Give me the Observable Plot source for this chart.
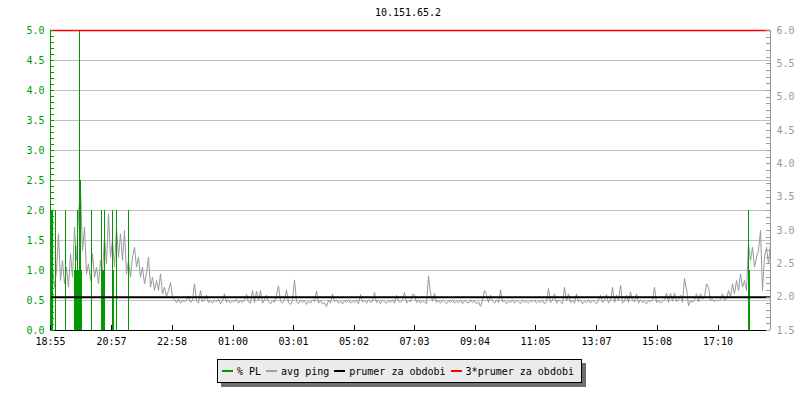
<!DOCTYPE html>
<html><head><meta charset="utf-8">
<script src="https://cdn.jsdelivr.net/npm/d3@7"></script>
<script src="https://cdn.jsdelivr.net/npm/@observablehq/plot@0.6"></script>
<style>
body{margin:0;background:#fff;font-family:"DejaVu Sans Mono",monospace;}
#wrap{position:relative;width:800px;height:400px;overflow:hidden;}
#chart{position:absolute;left:0;top:0;}
#title{position:absolute;top:7px;left:0;width:816px;text-align:center;font-size:10px;line-height:12px;color:#000;}
#legend{position:absolute;left:217px;top:359px;width:363px;height:22px;background:#ebebeb;border:1px solid #000;box-shadow:4px 4px 0 #6e6e6e;display:flex;align-items:center;font-size:10px;color:#000;white-space:pre;}
.sw{display:inline-block;width:11px;height:2px;margin-left:5px;margin-right:4px;}
.sw.first{margin-left:4px;}
</style>
</head><body>
<div id="wrap">
  <div id="chart"></div>
  <div id="title"></div>
  <div id="legend"></div>
</div>
<script>
// ---------- data ----------
const chartTitle = "10.151.65.2";
const startTime = "18:55";        // start of period
const periodMinutes = 1440;       // 24 h shown
const pingStepMinutes = 4;        // sampling step of avg ping values

// avg ping (right axis, ms)
const pingValues = [
 2.20,2.45,2.15,2.40,2.95,2.25,2.55,2.20,2.45,2.15,
 2.65,2.30,3.05,2.55,3.25,3.60,2.70,3.05,2.35,2.50,
 2.25,2.65,2.30,2.45,2.20,2.55,2.35,2.90,2.50,3.25,
 2.60,2.85,2.45,3.05,2.60,2.95,2.55,3.00,2.35,2.55,
 2.30,2.60,2.75,2.45,2.60,2.30,2.45,2.20,2.35,2.60,
 2.15,2.30,2.10,2.25,2.10,2.35,2.05,2.15,2.00,2.10,
 2.22,2.00,
 1.96,1.92,1.97,1.91,1.95,1.93,1.96,2.02,1.92,1.95,
 2.20,1.94,1.91,2.10,1.93,1.96,2.03,1.92,1.95,1.91,
 1.96,1.93,1.97,1.90,1.94,2.05,1.92,1.96,1.91,1.95,
 1.93,1.97,1.91,1.95,1.92,1.96,2.04,1.93,1.91,2.10,
 1.92,2.09,1.95,2.10,1.91,1.96,2.03,1.93,1.90,1.95,
 1.92,2.03,2.17,1.94,1.91,1.96,2.11,1.92,1.89,1.95,
 2.26,1.93,1.90,1.96,1.92,1.95,1.89,1.94,1.91,1.96,
 1.93,2.09,1.91,1.95,1.90,1.92,1.86,1.95,1.91,2.05,
 1.93,1.96,1.91,1.94,1.90,1.95,1.92,1.96,1.91,1.94,
 1.92,1.96,1.90,2.04,1.93,1.95,1.91,1.96,1.92,1.94,
 2.07,1.92,1.95,1.90,1.96,1.93,1.91,1.95,1.92,1.96,
 1.91,2.03,1.94,1.92,1.96,2.07,1.91,1.95,1.93,2.04,
 2.04,1.92,1.96,1.91,1.95,1.93,1.90,2.32,2.06,1.94,
 2.06,1.92,1.95,1.91,1.96,1.93,1.90,1.95,1.92,1.96,
 1.91,1.94,1.92,1.96,1.90,1.95,1.93,1.91,1.96,1.92,
 1.95,1.90,1.93,1.86,1.95,2.10,2.04,1.92,2.03,1.94,
 1.91,1.96,1.92,2.11,1.93,1.95,1.90,1.94,1.92,1.96,
 1.91,1.95,1.93,1.90,1.96,1.92,1.94,1.91,1.95,1.93,
 1.96,1.91,1.94,1.92,1.96,1.90,1.93,2.13,1.92,1.95,
 2.05,1.91,1.96,1.93,1.90,2.15,1.94,2.05,1.92,1.95,
 1.91,2.05,1.93,1.96,1.90,1.94,1.92,1.96,1.91,1.95,
 1.93,1.90,1.96,2.03,1.92,1.95,2.04,1.91,1.94,2.15,
 1.92,2.03,1.95,2.18,1.91,1.94,2.03,1.92,2.08,1.95,
 1.93,2.05,1.91,1.96,1.92,1.94,1.90,1.95,1.93,1.96,
 2.15,1.92,1.95,1.91,1.94,1.96,2.06,1.92,2.06,1.94,
 2.06,1.93,1.96,2.03,1.92,2.28,2.12,1.87,1.95,1.92,
 1.96,2.05,1.93,2.05,
 1.97,2.00,2.20,2.15,1.95,1.97,1.93,1.96,1.94,1.97,
 2.05,1.95,1.98,2.10,2.00,2.20,2.05,2.25,2.10,2.35,
 2.15,2.25,2.10,2.80,2.55,2.75,2.45,2.60,2.70,3.00,
 2.10,2.60,2.75,2.50,2.80
];

// packet loss (left axis, %)
const plTimes  = ["18:57","18:59","19:05","19:25","19:43","19:45","19:47","19:49","19:51","19:53","19:55","19:57","20:17","20:37","20:39","20:41","20:43","20:59","21:01","21:07","21:31","18:11","18:13"];
const plValues = [2.0,2.0,2.0,2.0,1.0,1.4,1.0,2.0,1.0,5.0,2.5,1.0,2.0,2.0,1.0,1.0,2.0,2.0,1.0,2.0,2.0,2.0,1.0];

const prumer = 2.0;   // mean of period (ping)

// tick labels
const xTickLabels = ["18:55","20:57","22:58","01:00","03:01","05:02","07:03","09:04","11:05","13:07","15:08","17:10"];
const leftTickLabels = ["0.0","0.5","1.0","1.5","2.0","2.5","3.0","3.5","4.0","4.5","5.0"];
const rightTickLabels = ["1.5","2.0","2.5","3.0","3.5","4.0","4.5","5.0","5.5","6.0"];

const legendItems = [
  {label: "% PL", color: "#009900"},
  {label: "avg ping", color: "#a0a0a0"},
  {label: "prumer za obdobi", color: "#000000"},
  {label: "3*prumer za obdobi", color: "#ff0000"}
];

// ---------- helpers ----------
const GREEN = "#009900", GREY = "#999999";
const MIN = 60000;
const dayBase = Date.UTC(2000, 0, 1, 0, 0);
const [sh, sm] = startTime.split(":").map(Number);
const startMin = sh * 60 + sm;
function parseT(s) {
  const [h, m] = s.split(":").map(Number);
  let mins = h * 60 + m;
  if (mins < startMin) mins += 1440;
  return new Date(dayBase + mins * MIN);
}
const t0 = parseT(startTime);
const t1 = new Date(+t0 + periodMinutes * MIN);
const rMin = +rightTickLabels[0], rMax = +rightTickLabels[rightTickLabels.length - 1];
const lMax = +leftTickLabels[leftTickLabels.length - 1];
const toLeft = v => (v - rMin) / (rMax - rMin) * lMax;

const ping = pingValues.map((v, i) => ({time: new Date(+t0 + i * pingStepMinutes * MIN), v}));
const pl = plTimes.map((s, i) => ({time: parseT(s), v: plValues[i]}));

const leftMinor = d3.range(0, lMax + 1e-9, 0.1);
const rightMinor = d3.range(rMin, rMax + 1e-9, 0.1).map(toLeft);
const tickLen = 8 * MIN;   // ~4px inward ticks
const crisp = {shapeRendering: "crispEdges"};

const chart = Plot.plot({
  width: 800, height: 400,
  marginLeft: 50, marginRight: 30, marginTop: 30, marginBottom: 70,
  x: {type: "utc", domain: [t0, t1], axis: null},
  y: {domain: [0, lMax], axis: null},
  style: {fontFamily: "DejaVu Sans Mono, monospace", fontSize: "10px", background: "transparent"},
  marks: [
    Plot.ruleY(leftTickLabels.map(Number).filter(d => d > 0), {stroke: "#c0c0c0", strokeWidth: 1, ...crisp}),
    Plot.line(ping, {x: "time", y: d => toLeft(d.v), stroke: GREY, strokeWidth: 1}),
    Plot.ruleX(pl, {x: "time", y1: 0, y2: d => Math.min(d.v, lMax), stroke: GREEN, strokeWidth: 1, ...crisp}),
    Plot.ruleY([toLeft(prumer)], {stroke: "#000", strokeWidth: 2}),
    Plot.ruleY([toLeft(3 * prumer)], {stroke: "#ff0000", strokeWidth: 1.3}),
    // axes lines
    Plot.ruleY([0], {stroke: "#000", strokeWidth: 1, ...crisp}),
    Plot.ruleX([t0], {stroke: GREEN, strokeWidth: 1, ...crisp}),
    Plot.ruleX([t1], {stroke: GREY, strokeWidth: 1, ...crisp}),
    // inward ticks
    Plot.ruleY(leftMinor, {x1: () => t0, x2: () => new Date(+t0 + tickLen), stroke: GREEN, ...crisp}),
    Plot.ruleY(rightMinor, {x1: () => new Date(+t1 - tickLen), x2: () => t1, stroke: GREY, ...crisp}),
    Plot.ruleX(xTickLabels, {x: d => parseT(d), y1: 0, y2: 5 / 60, stroke: "#000", ...crisp}),
    // labels
    Plot.text(leftTickLabels, {x: () => t0, y: d => +d, text: d => d, textAnchor: "end", dx: -6, fill: GREEN}),
    Plot.text(rightTickLabels, {x: () => t1, y: d => toLeft(+d), text: d => d, textAnchor: "start", dx: 6, fill: GREY}),
    Plot.text(xTickLabels, {x: d => parseT(d), y: 0, text: d => d, dy: 11, fill: "#000"})
  ]
});
document.getElementById("chart").appendChild(chart);
document.getElementById("title").textContent = chartTitle;

const leg = document.getElementById("legend");
legendItems.forEach((it, i) => {
  const sw = document.createElement("span");
  sw.className = "sw" + (i === 0 ? " first" : "");
  sw.style.background = it.color;
  leg.appendChild(sw);
  const tx = document.createElement("span");
  tx.textContent = it.label;
  leg.appendChild(tx);
});
</script>
</body></html>
